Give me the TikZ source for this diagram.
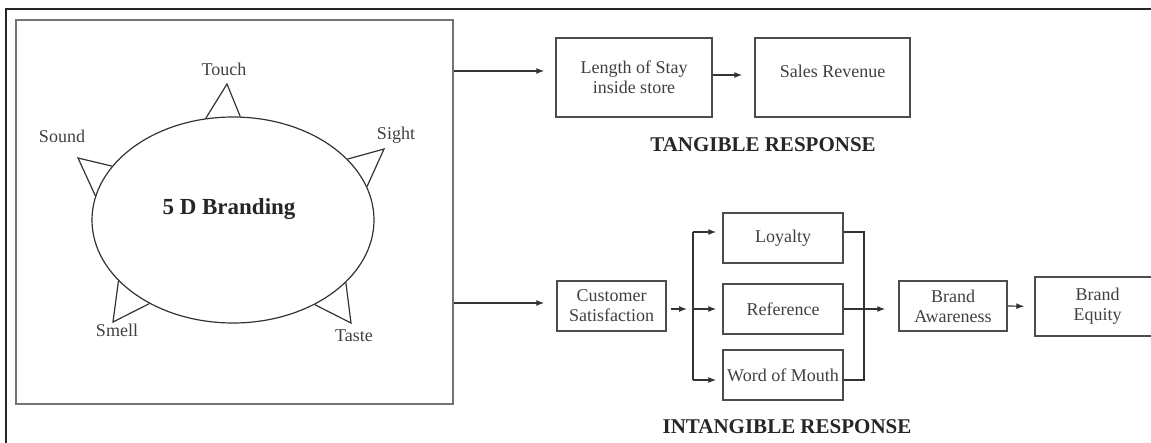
\documentclass[tikz,border=0pt]{standalone}
\usepackage{fontspec}
\setmainfont{Liberation Serif}
\usetikzlibrary{arrows.meta,positioning,calc,shapes.geometric}
\tikzset{
    box/.style={draw=black!70, line width=1.4pt, rectangle, align=center, inner sep=2pt,
        font=\fontsize{18}{20}\selectfont, text=black!75},
    arr/.style={-{Latex[length=8pt,width=6pt]}, line width=1.2pt, draw=black!80},
    link/.style={line width=1.2pt, draw=black!80}
}

\begin{document}
\begin{tikzpicture}[x=1pt, y=-1pt,
    sense/.style={font=\fontsize{18}{20}\selectfont, text=black!75, anchor=base, inner sep=0pt},
    heading/.style={font=\fontsize{21}{24}\selectfont\bfseries, text=black!85},
    spike/.style={line width=1.2pt, draw=black!80, line join=miter}
]
    \useasboundingbox (0,0) rectangle (1151,443);

    % outer frame
    \draw[line width=2.5pt, black!85] (6,460) -- (6,9) -- (1170,9);

    % left panel with the ellipse
    \node[draw=black!55, line width=1.8pt, minimum width=437pt, minimum height=384pt, inner sep=0pt] (sensebox) at (234.5,212) {};
    \node[ellipse, draw=black!80, line width=1.2pt, minimum width=282pt, minimum height=206pt, inner sep=0pt] (brand) at (233,220) {};
    \node[font=\fontsize{23}{26}\selectfont\bfseries, text=black!85] (brandname) at (229,209) {5 D Branding};

    % five senses
    \draw[spike] (brand.105) -- (227,84) -- (brand.86);
    \draw[spike] (brand.156) -- (78,158) -- (brand.170);
    \draw[spike] (brand.28) -- (384,149) -- (brand.14);
    \draw[spike] (brand.208) -- (113,322) -- (brand.225);
    \draw[spike] (brand.331) -- (351,323) -- (brand.314);

    \node[sense] (touch) at (224,76) {Touch};
    \node[sense] (sound) at (62,143) {Sound};
    \node[sense] (sight) at (396,140) {Sight};
    \node[sense] (smell) at (117,337) {Smell};
    \node[sense] (taste) at (354,342) {Taste};

    % tangible response
    \node[box, minimum width=156pt, minimum height=79pt] (stay) at (634,77.5) {Length of Stay\\inside store};
    \node[box, minimum width=155pt, minimum height=79pt] (sales) at (832.5,77.5) {\raisebox{12pt}{Sales Revenue}};
    \node[heading] (tangible) at (763,145) {TANGIBLE RESPONSE};

    % intangible response
    \node[box, minimum width=109pt, minimum height=50pt] (satisfy) at (611.5,306) {Customer\\Satisfaction};
    \node[box, minimum width=120pt, minimum height=50pt] (loyal) at (783,238) {Loyalty};
    \node[box, minimum width=120pt, minimum height=50pt] (refer) at (783,309) {Reference};
    \node[box, minimum width=120pt, minimum height=50pt, inner xsep=0pt] (mouth) at (783,375) {Word of Mouth};
    \node[box, minimum width=108pt, minimum height=50pt] (aware) at (953,306) {Brand\\Awareness};
    \node[box, minimum width=125pt, minimum height=59pt] (equity) at (1097.5,306.5) {Brand\\Equity};
    \node[heading] (intangible) at (787,427) {INTANGIBLE RESPONSE};

    \coordinate (split) at (693,309);
    \coordinate (busTop) at (693,232);
    \coordinate (busBot) at (693,380);
    \coordinate (mergeTop) at (864,232);
    \coordinate (mergeBot) at (864,380);

    % connectors
    \draw[arr, shorten >=11pt] ([yshift=6.5pt]sensebox.east |- stay.west) -- ([yshift=6.5pt]stay.west);
    \draw[arr, shorten >=12pt] ([yshift=2.5pt]stay.east) -- ([yshift=2.5pt]sales.west);
    \draw[arr, shorten >=12pt] ([yshift=3pt]sensebox.east |- satisfy.west) -- ([yshift=3pt]satisfy.west);
    \draw[arr, shorten <=4pt, shorten >=6pt] (satisfy.east |- split) -- (split);
    \draw[link] (busTop) -- (busBot);
    \draw[arr, shorten >=6pt] (busTop) -- (loyal.west |- busTop);
    \draw[arr, shorten >=6pt] (split) -- (refer.west);
    \draw[arr, shorten >=6pt] (busBot) -- (mouth.west |- busBot);
    \draw[link] (loyal.east |- mergeTop) -- (mergeTop) -- (mergeBot) -- (mouth.east |- mergeBot);
    \draw[arr, shorten >=13pt] (refer.east) -- (aware.west |- refer.east);
    \draw[arr, shorten >=10pt] (aware.east) -- (equity.west);
\end{tikzpicture}
\end{document}
